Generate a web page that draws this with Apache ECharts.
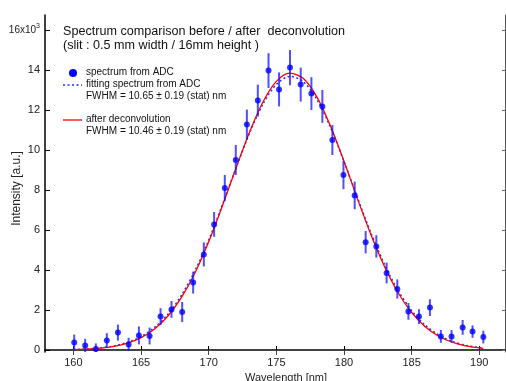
<!DOCTYPE html>
<html>
<head>
<meta charset="utf-8">
<script src="https://cdn.jsdelivr.net/npm/echarts@6/dist/echarts.min.js"></script>
<style>
html,body{margin:0;padding:0;background:#fff;}
#chart{width:506px;height:381px;}
</style>
</head>
<body>
<div id="chart"></div>
<script>
// ---- data ----
const wavelength = [160.06, 160.87, 161.66, 162.47, 163.29, 164.08, 164.84, 165.63, 166.44, 167.25,
  168.04, 168.85, 169.64, 170.40, 171.19, 172.00, 172.82, 173.63, 174.42, 175.20,
  176.01, 176.80, 177.59, 178.40, 179.14, 179.96, 180.79, 181.60, 182.39, 183.15,
  183.94, 184.76, 185.54, 186.35, 187.16, 187.95, 188.77, 189.50, 190.30];
const intensity = [370, 230, 50, 470, 870, 280, 730, 700, 1670, 2030,
  1900, 3370, 4780, 6280, 8100, 9500, 11270, 12470, 13970, 13030,
  14120, 13270, 12820, 12180, 10500, 8750, 7730, 5390, 5180, 3850,
  3050, 1930, 1670, 2120, 680, 680, 1130, 920, 650];
const intensityErr = [400, 330, 280, 370, 400, 330, 450, 420, 420, 420,
  500, 550, 600, 620, 650, 750, 750, 800, 870, 850,
  880, 850, 820, 820, 750, 710, 690, 560, 560, 520,
  480, 420, 370, 420, 320, 320, 370, 310, 320];
const curveX = [160, 161, 162, 163, 164, 165, 166, 167, 168, 169, 170, 171, 172, 173, 174, 175,
  176, 177, 178, 179, 180, 181, 182, 183, 184, 185, 186, 187, 188, 189, 190, 190.3];
const fitADC = [24, 52, 106, 205, 380, 670, 1130, 1800, 2750, 3980, 5500, 7240, 9070, 10810, 12280, 13280,
  13680, 13410, 12520, 11140, 9430, 7600, 5840, 4270, 2970, 1970, 1240, 750, 430, 233, 121, 100];
const deconv = [20, 44, 92, 182, 344, 617, 1054, 1712, 2643, 3878, 5414, 7183, 9059, 10865, 12390, 13433,
  13847, 13570, 12644, 11200, 9433, 7554, 5751, 4162, 2864, 1874, 1166, 690, 388, 207, 106, 85];
const xTicks = [160, 165, 170, 175, 180, 185, 190];
const yTicks = [0, 2000, 4000, 6000, 8000, 10000, 12000, 14000, 16000];
const titleLines = ['Spectrum comparison before / after  deconvolution', '(slit : 0.5 mm width / 16mm height )'];
const legendTexts = ['spectrum from ADC', 'fitting spectrum from ADC', 'FWHM = 10.65 \u00b1 0.19 (stat) nm',
  'after deconvolution', 'FWHM = 10.46 \u00b1 0.19 (stat) nm'];

const FONT = 'Liberation Sans';
const chart = echarts.init(document.getElementById('chart'), null, {renderer: 'canvas'});

const points = wavelength.map((x, i) => [x, intensity[i]]);
const errData = wavelength.map((x, i) => [x, intensity[i] - intensityErr[i], intensity[i] + intensityErr[i]]);
const fitData = curveX.map((x, i) => [x, fitADC[i]]);
const decData = curveX.map((x, i) => [x, deconv[i]]);

const option = {
  animation: false,
  backgroundColor: '#fff',
  textStyle: {fontFamily: FONT},
  grid: {left: 45, right: 1, top: 15, bottom: 29, containLabel: false, outerBoundsMode: 'none'},
  xAxis: [{
    type: 'value', min: 157.9, max: 191.9, position: 'bottom',
    name: 'Wavelength [nm]', nameLocation: 'middle', nameGap: 18,
    nameTextStyle: {fontSize: 11, color: '#222', fontFamily: FONT, padding: [0, 0, 0, 22]},
    axisLine: {show: true, lineStyle: {color: '#000', width: 1.5}},
    axisTick: {show: true, inside: true, length: 4, customValues: xTicks, lineStyle: {color: '#000'}},
    axisLabel: {customValues: xTicks, fontSize: 11, color: '#222', margin: 5, fontFamily: FONT},
    splitLine: {show: false}
  }, {
    type: 'value', min: 157.9, max: 191.9, position: 'top',
    axisLine: {show: true, lineStyle: {color: '#444', width: 1.2}},
    axisTick: {show: true, inside: true, length: 5, customValues: xTicks, lineStyle: {color: '#444'}},
    axisLabel: {show: false},
    splitLine: {show: false}
  }],
  yAxis: [{
    type: 'value', min: -100, max: 16750, position: 'left',
    name: 'Intensity [a.u.]', nameLocation: 'middle', nameGap: 22, nameRotate: 90, nameMoveOverlap: false,
    nameTextStyle: {fontSize: 12, color: '#222', fontFamily: FONT, padding: [0, 10, 0, 0]},
    axisLine: {show: true, lineStyle: {color: '#000', width: 1.5}},
    axisTick: {show: true, inside: true, length: 5, customValues: yTicks, lineStyle: {color: '#000'}},
    axisLabel: {
      customValues: yTicks, fontSize: 11, color: '#222', margin: 5, fontFamily: FONT,
      formatter: v => v === 16000 ? '{b|16x10}{s|3}' : String(v / 1000),
      rich: {b: {fontSize: 10, color: '#222', fontFamily: FONT}, s: {fontSize: 7, color: '#222', verticalAlign: 'top', padding: [0, 0, 8, 0], fontFamily: FONT}}
    },
    splitLine: {show: false}
  }, {
    type: 'value', min: -100, max: 16750, position: 'right',
    axisLine: {show: true, lineStyle: {color: '#555', width: 1}},
    axisTick: {show: true, inside: true, length: 3, customValues: yTicks, lineStyle: {color: '#777'}},
    axisLabel: {show: false},
    splitLine: {show: false}
  }],
  series: [
    {
      type: 'line', name: 'fit', data: fitData, smooth: 0.3, showSymbol: false, symbol: 'none',
      lineStyle: {color: '#2a2aff', width: 1.5, type: [2, 2.5]}, z: 2
    },
    {
      type: 'line', name: 'deconv', data: decData, smooth: 0.3, showSymbol: false, symbol: 'none',
      lineStyle: {color: '#ff0000', width: 1.3}, z: 3
    },
    {
      type: 'custom', name: 'err', data: errData, clip: true, z: 4,
      renderItem: (params, api) => {
        const p1 = api.coord([api.value(0), api.value(1)]);
        const p2 = api.coord([api.value(0), api.value(2)]);
        return {type: 'line', shape: {x1: p1[0], y1: p1[1], x2: p2[0], y2: p2[1]},
          style: {stroke: 'rgba(20,20,255,0.75)', lineWidth: 2}};
      },
      encode: {x: 0, y: [1, 2]}
    },
    {
      type: 'scatter', name: 'ADC', data: points, symbol: 'circle', symbolSize: 6,
      itemStyle: {color: '#0000ff'}, z: 5
    }
  ],
  graphic: [
    {type: 'text', left: 63, top: 25, style: {text: titleLines[0], font: '12.6px "' + FONT + '"', fill: '#111'}},
    {type: 'text', left: 63, top: 39, style: {text: titleLines[1], font: '12.6px "' + FONT + '"', fill: '#111'}},
    {type: 'circle', shape: {cx: 73, cy: 73, r: 4}, style: {fill: '#0000ff'}},
    {type: 'text', left: 86, top: 67, style: {text: legendTexts[0], font: '10px "' + FONT + '"', fill: '#111'}},
    {type: 'line', shape: {x1: 63, y1: 85, x2: 82, y2: 85}, style: {stroke: '#2a2aff', lineWidth: 1.3, lineDash: [2, 2.5]}},
    {type: 'text', left: 86, top: 79, style: {text: legendTexts[1], font: '10px "' + FONT + '"', fill: '#111'}},
    {type: 'text', left: 86, top: 91, style: {text: legendTexts[2], font: '10px "' + FONT + '"', fill: '#111'}},
    {type: 'line', shape: {x1: 63, y1: 120, x2: 82, y2: 120}, style: {stroke: '#ff0000', lineWidth: 1.3}},
    {type: 'text', left: 86, top: 114, style: {text: legendTexts[3], font: '10px "' + FONT + '"', fill: '#111'}},
    {type: 'text', left: 86, top: 126, style: {text: legendTexts[4], font: '10px "' + FONT + '"', fill: '#111'}}
  ]
};
chart.setOption(option);
</script>
</body>
</html>
